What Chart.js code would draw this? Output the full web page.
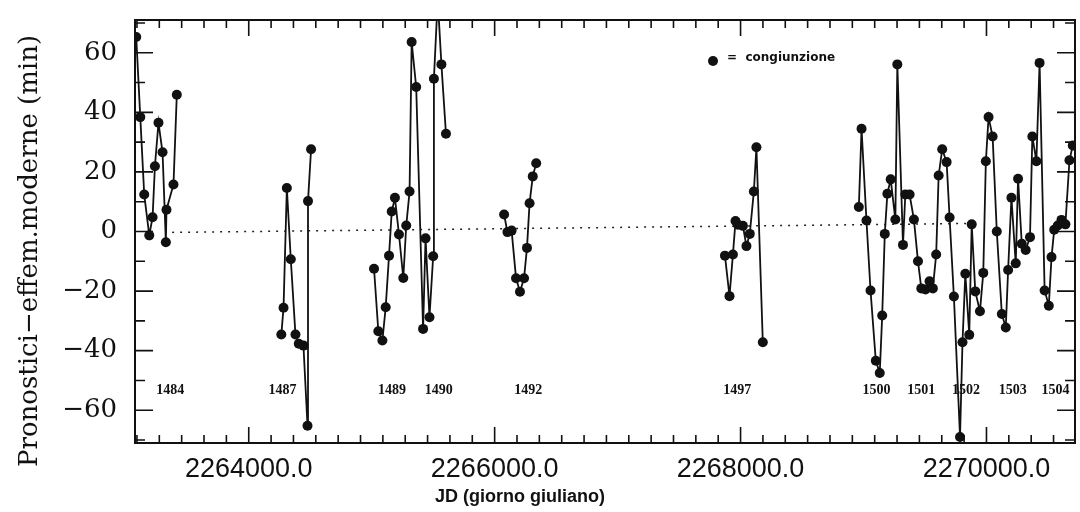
<!DOCTYPE html>
<html>
<head>
<meta charset="utf-8">
<script src="https://cdn.jsdelivr.net/npm/chart.js@4.4.1/dist/chart.umd.min.js"></script>
<style>
  html, body { margin: 0; padding: 0; background: #fff; }
</style>
</head>
<body>
<canvas id="conjChart" width="1080" height="512"></canvas>
<script>
// JD of each conjunction and (pronostici - modern ephemeris) in minutes, one pair of arrays per group
var jd1484 = [2263085, 2263118, 2263150, 2263191, 2263218, 2263237, 2263266, 2263299, 2263326, 2263331, 2263388, 2263415];
var dev1484 = [65.3, 38.4, 12.4, -1.3, 4.8, 21.9, 36.5, 26.6, -3.6, 7.3, 15.8, 45.9];

var jd1487 = [2264265, 2264283, 2264310, 2264342, 2264380, 2264407, 2264445, 2264478, 2264482, 2264507];
var dev1487 = [-34.6, -25.6, 14.6, -9.3, -34.6, -37.7, -38.3, -65.2, 10.2, 27.6];

var jd1489 = [2265019, 2265054, 2265087, 2265114, 2265141, 2265163, 2265189, 2265222, 2265257, 2265281, 2265308,
              2265325, 2265362, 2265418, 2265438, 2265470, 2265500, 2265506, 2265537, 2265567, 2265604];
var dev1489 = [-12.5, -33.5, -36.6, -25.4, -8.1, 6.7, 11.3, -1.0, -15.6, 2.0, 13.4,
               63.6, 48.5, -32.7, -2.3, -28.8, -8.3, 51.3, 78, 56.1, 32.8];

var jd1492 = [2266077, 2266104, 2266138, 2266174, 2266206, 2266239, 2266263, 2266284, 2266310, 2266338];
var dev1492 = [5.7, -0.2, 0.3, -15.7, -20.2, -15.7, -5.5, 9.5, 18.5, 22.9];

var jd1497 = [2267873, 2267910, 2267938, 2267959, 2267978, 2268019, 2268048, 2268075, 2268108, 2268129, 2268181];
var dev1497 = [-8.1, -21.7, -7.7, 3.5, 2.3, 1.9, -4.9, -0.8, 13.4, 28.3, -37.2];

var jd1500 = [2268962, 2268984, 2269024, 2269057, 2269100, 2269132, 2269152, 2269173, 2269194, 2269221,
              2269259, 2269275, 2269321, 2269340, 2269375, 2269410, 2269443, 2269470, 2269504, 2269537,
              2269564, 2269591, 2269611, 2269640, 2269676, 2269700, 2269735, 2269785, 2269805, 2269828,
              2269860, 2269880, 2269909, 2269947, 2269974, 2269995, 2270017, 2270050, 2270084, 2270125,
              2270157, 2270176, 2270203, 2270238, 2270257, 2270287, 2270319, 2270354, 2270373, 2270406,
              2270432, 2270473, 2270507, 2270529, 2270551, 2270580, 2270610, 2270642, 2270675, 2270702];
var dev1500 = [8.2, 34.5, 3.7, -19.8, -43.4, -47.5, -28.2, -0.8, 12.7, 17.5,
               4.0, 56.1, -4.5, 12.4, 12.4, 4.0, -10.0, -19.1, -19.5, -16.7,
               -19.1, -7.7, 18.8, 27.6, 23.3, 4.7, -21.8, -69, -37.2, -14.2,
               -34.7, 2.4, -20.1, -26.8, -13.9, 23.6, 38.4, 31.9, 0, -27.7,
               -32.2, -12.9, 11.3, -10.7, 17.7, -4.1, -6.2, -1.9, 31.9, 23.6,
               56.6, -19.8, -24.9, -8.6, 0.6, 2.0, 3.9, 2.4, 23.9, 28.9];

// dotted reference line
var zeroJd = [2263377, 2269874];
var zeroDev = [-0.3, 2.7];

// year labels written under the groups
var yearNames = ['1484', '1487', '1489', '1490', '1492', '1497', '1500', '1501', '1502', '1503', '1504'];
var yearJd = [2263361, 2264275, 2265165, 2265545, 2266274, 2267973, 2269105, 2269470, 2269834, 2270214, 2270562];
var yearLabelDev = -53.4;

// axis ticks
var xTicks = [2264000, 2266000, 2268000, 2270000];
var yTicks = [-60, -40, -20, 0, 20, 40, 60];
var xMin = 2263075, xMax = 2270720;
var yMin = -71, yMax = 71;

function toPoints(xs, ys) {
  var pts = [];
  for (var i = 0; i < xs.length; i++) pts.push({x: xs[i], y: ys[i]});
  return pts;
}

function groupSet(xs, ys) {
  return {
    data: toPoints(xs, ys),
    borderColor: '#111',
    backgroundColor: '#111',
    borderWidth: 1.8,
    pointRadius: 5,
    pointBorderWidth: 0,
    pointBackgroundColor: '#111',
    tension: 0
  };
}

var framePlugin = {
  id: 'frame',
  beforeDatasetsDraw: function(chart) {
    var ctx = chart.ctx, a = chart.chartArea;
    var xs = chart.scales.x, ys = chart.scales.y;
    ctx.save();
    ctx.strokeStyle = '#111';
    ctx.lineWidth = 2;
    ctx.strokeRect(a.left, a.top, a.right - a.left, a.bottom - a.top);
    ctx.lineWidth = 1.6;
    ctx.beginPath();
    // inward x ticks, 11 small steps between the labelled ones
    var step = 2000 / 11;
    for (var k = -6; k <= 40; k++) {
      var v = xTicks[0] + k * step;
      if (v < xMin || v > xMax) continue;
      var px = xs.getPixelForValue(v);
      var len = (k % 11 === 0) ? 16 : 8;
      ctx.moveTo(px, a.bottom); ctx.lineTo(px, a.bottom - len);
      ctx.moveTo(px, a.top); ctx.lineTo(px, a.top + len);
    }
    // inward y ticks every 10
    for (var t = -70; t <= 70; t += 10) {
      var py = ys.getPixelForValue(t);
      var l2 = (t % 20 === 0) ? 18 : 10;
      ctx.moveTo(a.left, py); ctx.lineTo(a.left + l2, py);
      ctx.moveTo(a.right, py); ctx.lineTo(a.right - l2, py);
    }
    ctx.stroke();
    ctx.restore();
  },
  afterDraw: function(chart) {
    var ctx = chart.ctx;
    var xs = chart.scales.x, ys = chart.scales.y;
    ctx.save();
    ctx.fillStyle = '#111';

    // year labels
    ctx.font = 'bold 14px "Liberation Serif"';
    ctx.textAlign = 'center';
    ctx.textBaseline = 'middle';
    for (var i = 0; i < yearNames.length; i++) {
      ctx.fillText(yearNames[i], xs.getPixelForValue(yearJd[i]), ys.getPixelForValue(yearLabelDev));
    }

    // legend
    ctx.beginPath();
    ctx.arc(713, 61, 5, 0, Math.PI * 2);
    ctx.fill();
    ctx.font = 'bold 12px "DejaVu Sans"';
    ctx.textAlign = 'left';
    ctx.fillText('=  congiunzione', 727, 58);

    // x title
    ctx.font = 'bold 18px "Liberation Sans"';
    ctx.textAlign = 'center';
    ctx.fillText('JD (giorno giuliano)', 520, 497);

    // y title
    ctx.translate(30, 251);
    ctx.rotate(-Math.PI / 2);
    ctx.font = '26px "DejaVu Serif"';
    ctx.fillText('Pronostici\u2212effem.moderne (min)', 0, 0);
    ctx.restore();
  }
};

window.onload = function() {
  var datasets = [
    groupSet(jd1484, dev1484),
    groupSet(jd1487, dev1487),
    groupSet(jd1489, dev1489),
    groupSet(jd1492, dev1492),
    groupSet(jd1497, dev1497),
    groupSet(jd1500, dev1500),
    {
      data: toPoints(zeroJd, zeroDev),
      borderColor: '#222',
      borderWidth: 1.5,
      borderDash: [2, 6],
      pointRadius: 0
    }
  ];

  var config = {
    type: 'line',
    data: { datasets: datasets },
    options: {
      responsive: false,
      animation: false,
      devicePixelRatio: 1,
      layout: { padding: { top: 20, right: 0, left: 0, bottom: 0 } },
      plugins: { legend: { display: false }, tooltip: { enabled: false } },
      scales: {
        x: {
          type: 'linear',
          min: xMin,
          max: xMax,
          afterBuildTicks: function(s) { s.ticks = xTicks.map(function(v) { return {value: v}; }); },
          afterFit: function(s) { s.height = 69; s.paddingLeft = 0; s.paddingRight = 0; },
          grid: { display: false, drawTicks: false },
          border: { display: false },
          ticks: {
            color: '#111',
            font: { family: 'Liberation Sans', size: 27 },
            padding: 10,
            maxRotation: 0,
            autoSkip: false,
            callback: function(v) { return v.toFixed(1); }
          }
        },
        y: {
          min: yMin,
          max: yMax,
          afterBuildTicks: function(s) { s.ticks = yTicks.map(function(v) { return {value: v}; }); },
          afterFit: function(s) { s.width = 135; s.paddingTop = 0; s.paddingBottom = 0; },
          grid: { display: false, drawTicks: false },
          border: { display: false },
          ticks: {
            color: '#111',
            font: { family: 'DejaVu Serif', size: 26 },
            padding: 18,
            callback: function(v) { return v < 0 ? '\u2212' + Math.abs(v) : String(v); }
          }
        }
      }
    },
    plugins: [framePlugin]
  };

  var ctx = document.getElementById('conjChart').getContext('2d');
  new Chart(ctx, config);
};
</script>
</body>
</html>
